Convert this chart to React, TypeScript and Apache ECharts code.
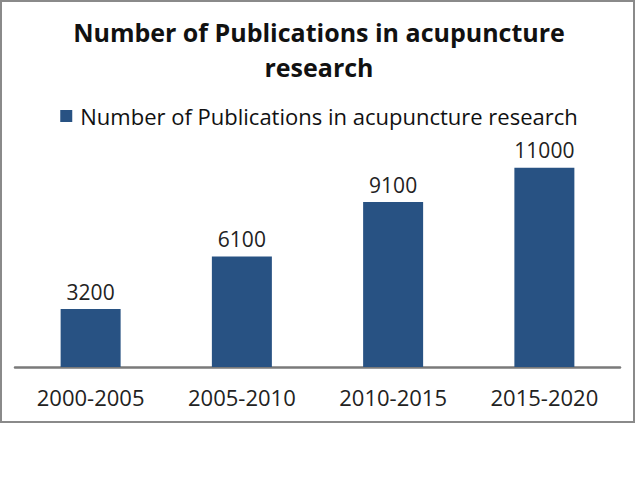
import React, { useEffect, useRef } from "react";
import * as echarts from "echarts";

const titleText = "Number of Publications in acupuncture\nresearch";
const seriesName = "Number of Publications in acupuncture research";
const categories = ["2000-2005", "2005-2010", "2010-2015", "2015-2020"];
const values = [3200, 6100, 9100, 11000];

const FONT = "'Open Sans', sans-serif";
const BAR_COLOR = "#285283";

export default function App() {
  const ref = useRef<HTMLDivElement>(null);
  useEffect(() => {
    if (!ref.current) return;
    const chart = echarts.init(ref.current, null, { renderer: "svg" });
    chart.setOption({
      animation: false,
      backgroundColor: "#ffffff",
      title: {
        text: titleText,
        left: "center",
        top: 9,
        textStyle: {
          fontFamily: FONT,
          fontWeight: "bold",
          fontSize: 25,
          lineHeight: 35,
          color: "#111",
        },
      },
      legend: {
        top: 100,
        left: "center",
        icon: "rect",
        itemWidth: 12,
        itemHeight: 12,
        itemGap: 8,
        textStyle: { fontFamily: FONT, fontSize: 22, color: "#111", padding: [0, 0, 0, 3] },
        data: [seriesName],
      },
      grid: { left: 15, right: 18, top: 149.5, bottom: 113, containLabel: false },
      xAxis: {
        type: "category",
        data: categories,
        axisLine: { lineStyle: { color: "#7a7a7a", width: 2.5 } },
        axisTick: { show: false },
        axisLabel: { fontFamily: FONT, fontSize: 22, color: "#222", margin: 19 },
      },
      yAxis: {
        type: "value",
        min: 0,
        max: 12000,
        show: false,
        splitLine: { show: false },
      },
      series: [
        {
          name: seriesName,
          type: "bar",
          data: values,
          barWidth: 60,
          itemStyle: { color: BAR_COLOR },
          label: {
            show: true,
            position: "top",
            distance: 7,
            fontFamily: FONT,
            fontSize: 21,
            color: "#222",
          },
        },
      ],
      graphic: [
        {
          type: "rect",
          shape: { x: 1, y: 1, width: 633, height: 421 },
          style: { fill: "none", stroke: "#8a8a8a", lineWidth: 2 },
          silent: true,
        },
      ],
    });
    return () => chart.dispose();
  }, []);
  return (
    <div
      ref={ref}
      style={{ position: "fixed", left: 0, top: 0, width: 638, height: 480 }}
    />
  );
}
